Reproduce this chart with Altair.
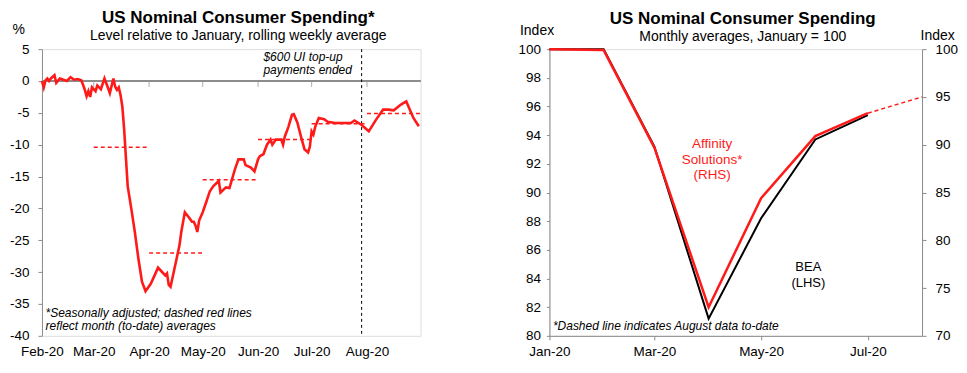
import altair as alt
import pandas as pd

FONT = "Liberation Sans"
RED = "#ff1a1a"
GREY = "#8c8c8c"

# ---------------- Left panel data (daily rolling weekly average, % vs Jan) ----------------
spend_dates = [
    "2020-02-01", "2020-02-02", "2020-02-03", "2020-02-04", "2020-02-05", "2020-02-06",
    "2020-02-08", "2020-02-09", "2020-02-11", "2020-02-13", "2020-02-15", "2020-02-17",
    "2020-02-19", "2020-02-21", "2020-02-23", "2020-02-24", "2020-02-25", "2020-02-26",
    "2020-02-27", "2020-02-28", "2020-02-29", "2020-03-02", "2020-03-03", "2020-03-05",
    "2020-03-07", "2020-03-09", "2020-03-10", "2020-03-12", "2020-03-13", "2020-03-14",
    "2020-03-15", "2020-03-16", "2020-03-17", "2020-03-18", "2020-03-19", "2020-03-20",
    "2020-03-22", "2020-03-24", "2020-03-26", "2020-03-28", "2020-03-30", "2020-04-02",
    "2020-04-06", "2020-04-08", "2020-04-10", "2020-04-11", "2020-04-12", "2020-04-13",
    "2020-04-15", "2020-04-16", "2020-04-18", "2020-04-19", "2020-04-21", "2020-04-23",
    "2020-04-25", "2020-04-26", "2020-04-27", "2020-04-28", "2020-04-29", "2020-05-01",
    "2020-05-03", "2020-05-05", "2020-05-07", "2020-05-10", "2020-05-11", "2020-05-14",
    "2020-05-16", "2020-05-19", "2020-05-21", "2020-05-24", "2020-05-25", "2020-05-28",
    "2020-05-30", "2020-06-01", "2020-06-02", "2020-06-04", "2020-06-06", "2020-06-08",
    "2020-06-09", "2020-06-11", "2020-06-14", "2020-06-15", "2020-06-16", "2020-06-18",
    "2020-06-20", "2020-06-21", "2020-06-23", "2020-06-25", "2020-06-27", "2020-06-29",
    "2020-06-30", "2020-07-01", "2020-07-02", "2020-07-03", "2020-07-05", "2020-07-08",
    "2020-07-10", "2020-07-14", "2020-07-23", "2020-07-25", "2020-07-29", "2020-08-02",
    "2020-08-06", "2020-08-10", "2020-08-13", "2020-08-16", "2020-08-20", "2020-08-23",
    "2020-08-25", "2020-08-27", "2020-08-30",
]
spend_values = [
    0.0, -1.0, 0.1, 0.4, 0.0, 0.4,
    0.9, -0.3, 0.4, 0.2, 0.0, 0.6,
    0.2, 0.3, 0.1, -0.6, -1.4, -2.4,
    -1.6, -2.5, -1.0, -1.6, -0.7, -1.3,
    0.4, -1.1, -1.9, 0.4, -0.9, -1.4,
    -1.0, -2.2, -4.0, -7.5, -12.0, -16.5,
    -20.0, -23.7, -27.9, -31.5, -33.0, -31.8,
    -29.3, -29.9, -30.5, -30.2, -32.0, -32.3,
    -29.7, -28.4, -25.8, -23.7, -20.6, -21.3,
    -22.1, -22.1, -22.7, -23.7, -21.9, -20.6,
    -19.0, -17.3, -16.5, -15.7, -17.5, -16.7,
    -16.8, -13.9, -12.3, -12.3, -13.2, -13.6,
    -14.2, -12.3, -11.8, -11.5, -10.0, -9.2,
    -10.0, -9.2, -9.2, -10.0, -8.7, -7.2,
    -5.3, -5.2, -6.5, -8.7, -10.7, -11.2,
    -10.3, -7.9, -8.4, -7.2, -5.8, -6.0,
    -6.4, -6.6, -6.6, -6.2, -6.9, -7.9,
    -6.1, -4.5, -4.5, -4.6, -3.7, -3.2,
    -4.5, -5.8, -7.1,
]

avg_start = ["2020-03-01", "2020-04-01", "2020-05-01", "2020-06-01", "2020-07-01", "2020-08-01"]
avg_end = ["2020-04-01", "2020-05-01", "2020-06-01", "2020-07-01", "2020-08-01", "2020-08-31"]
avg_values = [-10.4, -27.0, -15.5, -9.2, -6.7, -5.1]

month_ticks = ["2020-03-01", "2020-04-01", "2020-05-01", "2020-06-01", "2020-07-01", "2020-08-01"]
left_y_ticks = [5, 0, -5, -10, -15, -20, -25, -30, -35, -40]
ui_end_date = "2020-07-29"

left_notes_date = ["2020-06-04", "2020-06-04", "2020-02-03", "2020-02-03"]
left_notes_val = [3.7, 1.7, -36.4, -38.5]
left_notes_text = ["$600 UI top-up", "payments ended",
                   "*Seasonally adjusted; dashed red lines",
                   "reflect month (to-date) averages"]

# ---------------- Right panel data (monthly averages, Jan = 100) ----------------
months = ["2020-01-01", "2020-02-01", "2020-03-01", "2020-04-01",
          "2020-05-01", "2020-06-01", "2020-07-01"]
bea = [100.0, 100.0, 93.2, 81.2, 88.2, 93.7, 95.4]
affinity = [100.0, 99.9, 89.7, 73.0, 84.4, 90.9, 93.3]
affinity_ext_months = ["2020-07-01", "2020-08-01"]
affinity_ext = [93.3, 95.0]

left_axis_ticks = [80, 82, 84, 86, 88, 90, 92, 94, 96, 98, 100]
right_axis_ticks = [70, 75, 80, 85, 90, 95, 100]

red_note_date = ["2020-04-03", "2020-04-03", "2020-04-03"]
red_note_val = [93.4, 92.3, 91.2]
red_note_text = ["Affinity", "Solutions*", "(RHS)"]
bea_note_date = ["2020-05-28", "2020-05-28"]
bea_note_val = [84.8, 83.7]
bea_note_text = ["BEA", "(LHS)"]
foot_date = ["2020-01-03"]
foot_val = [80.7]
foot_text = ["*Dashed line indicates August data to-date"]


def dt(y, m, d):
    return alt.DateTime(year=y, month=m, date=d, utc=True)


# ======================= LEFT CHART =======================
df_spend = pd.DataFrame({"date": spend_dates, "value": spend_values})
df_avg = pd.DataFrame({"start": avg_start, "end": avg_end, "avg": avg_values})
df_ticks = pd.DataFrame({"date": month_ticks, "zero": [0] * len(month_ticks)})
df_ui = pd.DataFrame({"date": [ui_end_date]})
df_lnotes = pd.DataFrame({"date": left_notes_date, "val": left_notes_val, "text": left_notes_text})

lx_scale = alt.Scale(type="utc", domain=[dt(2020, 2, 1), dt(2020, 8, 31)])
ly_scale = alt.Scale(domain=[-40, 5], nice=False)

lx_axis = alt.Axis(
    tickCount={"interval": "month", "step": 1},
    labelExpr="utcFormat(datum.value, '%b-%y')", labelOverlap=False, labelBound=False,
    labelFlush=False, domain=False, ticks=False, grid=False, labelPadding=9, title=None,
    labelFontSize=13.5, labelFont=FONT, labelColor="black")
ly_axis = alt.Axis(
    values=left_y_ticks, labelExpr="'' + datum.value", grid=False, title="%", titleAngle=0,
    titleAlign="left", titleBaseline="middle", titleX=-30, titleY=-20,
    titleFontWeight="normal", titleFontSize=14, titleFont=FONT, titleColor="black",
    tickSize=4, tickColor=GREY, domainColor=GREY, labelPadding=9,
    labelFontSize=13.5, labelFont=FONT, labelColor="black")

left_line = alt.Chart(df_spend).mark_line(color=RED, strokeWidth=2.6).encode(
    x=alt.X("date:T", scale=lx_scale, axis=lx_axis),
    y=alt.Y("value:Q", scale=ly_scale, axis=ly_axis),
)

zero_rule = alt.Chart(df_ticks).mark_rule(color=GREY, strokeWidth=1).encode(
    y=alt.Y("zero:Q", scale=ly_scale, axis=ly_axis)
)

zero_ticks = alt.Chart(df_ticks).mark_tick(
    color=GREY, orient="vertical", size=6, thickness=1, yOffset=3
).encode(
    x=alt.X("date:T", scale=lx_scale, axis=lx_axis),
    y=alt.Y("zero:Q", scale=ly_scale, axis=ly_axis),
)

avg_rules = alt.Chart(df_avg).mark_rule(color=RED, strokeWidth=1.5, strokeDash=[4, 3]).encode(
    x=alt.X("start:T", scale=lx_scale, axis=lx_axis),
    x2="end:T",
    y=alt.Y("avg:Q", scale=ly_scale, axis=ly_axis),
)

ui_rule = alt.Chart(df_ui).mark_rule(color="black", strokeWidth=1, strokeDash=[3, 3]).encode(
    x=alt.X("date:T", scale=lx_scale, axis=lx_axis)
)

left_notes = alt.Chart(df_lnotes).mark_text(
    align="left", baseline="middle", fontStyle="italic", fontSize=12, font=FONT, color="black"
).encode(
    x=alt.X("date:T", scale=lx_scale, axis=lx_axis),
    y=alt.Y("val:Q", scale=ly_scale, axis=ly_axis),
    text="text:N",
)

left_chart = alt.layer(
    zero_rule, zero_ticks, ui_rule, avg_rules, left_line, left_notes
).properties(
    width=379, height=287,
    title=alt.TitleParams(
        text="US Nominal Consumer Spending*",
        subtitle="Level relative to January, rolling weekly average",
        fontSize=17, font=FONT, fontWeight="bold", color="black",
        subtitleFontSize=14, subtitleFont=FONT, subtitleColor="black",
        subtitlePadding=2, anchor="middle", frame="group", offset=-22, dx=7,
    ),
)

# ======================= RIGHT CHART =======================
df_m = pd.DataFrame({"month": months, "bea": bea, "affinity": affinity})
df_ext = pd.DataFrame({"month": affinity_ext_months, "affinity": affinity_ext})
df_red_note = pd.DataFrame({"date": red_note_date, "val": red_note_val, "text": red_note_text})
df_bea_note = pd.DataFrame({"date": bea_note_date, "val": bea_note_val, "text": bea_note_text})
df_foot = pd.DataFrame({"date": foot_date, "val": foot_val, "text": foot_text})

rx_scale = alt.Scale(type="utc", domain=[dt(2020, 1, 1), dt(2020, 8, 1)])
bea_scale = alt.Scale(domain=[80, 100], nice=False)
aff_scale = alt.Scale(domain=[70, 100], nice=False)

rx_axis = alt.Axis(tickCount={"interval": "month", "step": 2},
                   labelExpr="utcFormat(datum.value, '%b-%y')", labelOverlap=False,
                   labelFlush=False, labelBound=False,
                   grid=False, title=None, tickSize=4, tickColor=GREY, domainColor=GREY,
                   labelPadding=5, labelFontSize=13.5, labelFont=FONT, labelColor="black")

bea_line = alt.Chart(df_m).mark_line(color="black", strokeWidth=2).encode(
    x=alt.X("month:T", scale=rx_scale, axis=rx_axis),
    y=alt.Y("bea:Q", scale=bea_scale, axis=alt.Axis(
        values=left_axis_ticks, grid=False, orient="left", title="Index", titleAngle=0,
        titleAlign="left", titleBaseline="middle", titleX=-30, titleY=-19,
        titleFontWeight="normal", titleFontSize=14, titleFont=FONT, titleColor="black",
        tickSize=3, tickColor=GREY, domainColor=GREY, labelPadding=6,
        labelFontSize=13.5, labelFont=FONT, labelColor="black")),
)

bea_notes = alt.Chart(df_bea_note).mark_text(
    align="center", baseline="middle", fontSize=13, font=FONT, color="black"
).encode(
    x=alt.X("date:T", scale=rx_scale, axis=None),
    y=alt.Y("val:Q", scale=bea_scale, axis=None),
    text="text:N",
)
foot_note = alt.Chart(df_foot).mark_text(
    align="left", baseline="middle", fontSize=12, fontStyle="italic", font=FONT, color="black"
).encode(
    x=alt.X("date:T", scale=rx_scale, axis=None),
    y=alt.Y("val:Q", scale=bea_scale, axis=None),
    text="text:N",
)
red_notes = alt.Chart(df_red_note).mark_text(
    align="center", baseline="middle", fontSize=13.5, font=FONT, color=RED
).encode(
    x=alt.X("date:T", scale=rx_scale, axis=None),
    y=alt.Y("val:Q", scale=bea_scale, axis=None),
    text="text:N",
)

aff_line = alt.Chart(df_m).mark_line(color=RED, strokeWidth=2.5).encode(
    x=alt.X("month:T", scale=rx_scale, axis=None),
    y=alt.Y("affinity:Q", scale=aff_scale, axis=alt.Axis(
        values=right_axis_ticks, grid=False, orient="right", title="Index", titleAngle=0,
        titleAlign="left", titleBaseline="middle", titleX=-2, titleY=-14,
        titleFontWeight="normal", titleFontSize=14, titleFont=FONT, titleColor="black",
        tickSize=4, tickColor=GREY, domainColor=GREY, labelPadding=9,
        labelFontSize=13.5, labelFont=FONT, labelColor="black")),
)
aff_ext = alt.Chart(df_ext).mark_line(color=RED, strokeWidth=1.5, strokeDash=[4, 3]).encode(
    x=alt.X("month:T", scale=rx_scale, axis=None),
    y=alt.Y("affinity:Q", scale=aff_scale, axis=None),
)

right_chart = alt.layer(
    bea_line, bea_notes, foot_note, red_notes, aff_ext, aff_line
).resolve_scale(y="independent").resolve_axis(x="independent").properties(
    width=373, height=287,
    title=alt.TitleParams(
        text="US Nominal Consumer Spending",
        subtitle="Monthly averages, January = 100",
        fontSize=17, font=FONT, fontWeight="bold", color="black",
        subtitleFontSize=14, subtitleFont=FONT, subtitleColor="black",
        subtitlePadding=2, anchor="middle", frame="group", offset=-22, dx=7,
    ),
)

chart = alt.hconcat(left_chart, right_chart, spacing=92).properties(
    padding={"left": 0, "top": 0, "right": 0, "bottom": 0}
).configure_view(stroke="transparent", strokeWidth=0).configure(background="white")

chart.save("out.html", embed_options={"renderer": "svg", "actions": False})
